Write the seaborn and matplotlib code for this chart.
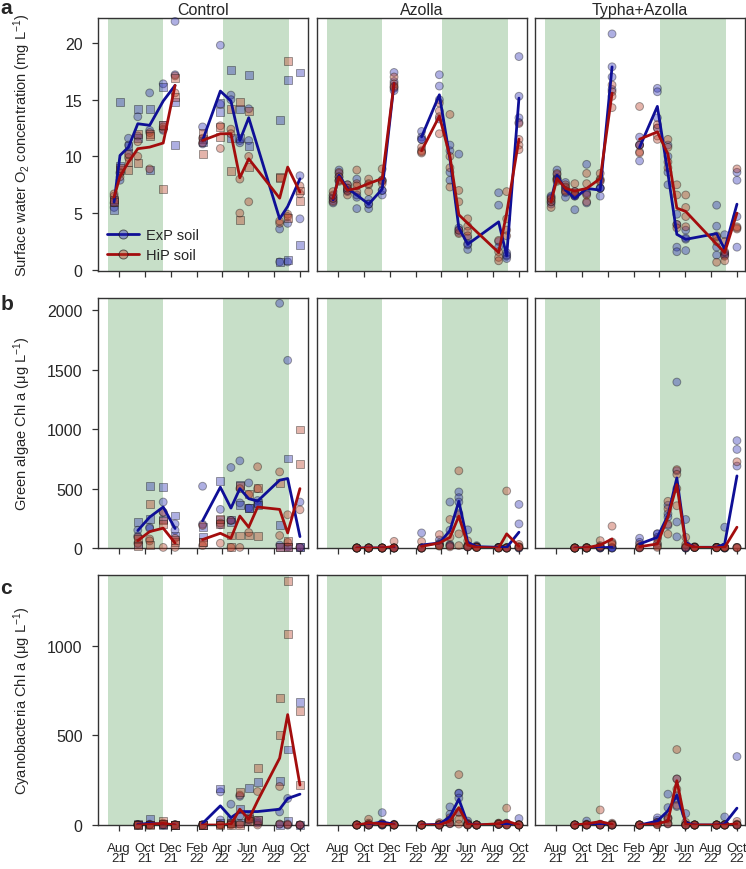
import numpy as np
import pandas as pd
import seaborn as sns
import matplotlib.pyplot as plt
import matplotlib.dates as mdates
from matplotlib.lines import Line2D

sns.set_style("ticks")
plt.rcParams["font.family"] = ["Liberation Sans", "DejaVu Sans"]
plt.rcParams["mathtext.fontset"] = "custom"
plt.rcParams["mathtext.rm"] = "Liberation Sans"
plt.rcParams["mathtext.it"] = "Liberation Sans:italic"

nan = np.nan

# sampling dates (first 7 = 2021 season, last 9 = 2022 season)
dates = ["2021-07-20", "2021-08-03", "2021-08-23", "2021-09-14", "2021-10-12",
         "2021-11-13", "2021-12-11", "2022-02-14", "2022-03-28", "2022-04-22",
         "2022-05-13", "2022-06-03", "2022-06-24", "2022-08-15", "2022-09-03",
         "2022-10-02"]
season = [0] * 7 + [1] * 9

tick_dates = ["2021-08-01", "2021-10-01", "2021-12-01", "2022-02-01",
              "2022-04-01", "2022-06-01", "2022-08-01", "2022-10-01"]
tick_labels = ["Aug\n21", "Oct\n21", "Dec\n21", "Feb\n22",
               "Apr\n22", "Jun\n22", "Aug\n22", "Oct\n22"]

# periods with plants (green shading)
green_periods = [("2021-07-05", "2021-11-12"), ("2022-04-04", "2022-09-05")]

panels = ["Control", "Azolla", "Typha+Azolla"]
ylabels = ["Surface water O$_2$ concentration (mg L$^{-1}$)",
           "Green algae Chl a (\u03bcg L$^{-1}$)",
           "Cyanobacteria Chl a (\u03bcg L$^{-1}$)"]

# ---- mean lines ----
a_ctrl_exp = [5.97, 10.09, 10.82, 12.88, 12.74, 14.88, 16.26, 11.41, 15.76, 14.88, 11.41, 13.41, nan, 4.5, 5.59, 8.03]
a_ctrl_hip = [6.41, 8.24, 9.5, 10.68, 10.82, 11.18, 16.26, 11.41, 12.0, 12.0, 8.12, 9.79, nan, 6.32, 9.06, 6.85]
a_azo_exp = [6.17, 8.34, 7.18, 6.6, 5.79, 7.12, 16.44, 11.72, 15.43, 9.8, 3.7, 2.26, nan, 4.23, 1.24, 15.14]
a_azo_hip = [6.3, 8.19, 7.03, 7.18, 7.61, 8.05, 16.44, 10.5, 13.55, 10.0, 4.86, 4.1, nan, 1.53, 5.0, 11.52]
a_typ_exp = [6.17, 8.34, 7.03, 6.3, 7.18, 7.03, 17.89, 10.8, 14.41, 8.5, 3.13, 2.69, nan, 3.2, 1.82, 5.79]
a_typ_hip = [6.0, 8.05, 7.18, 6.95, 7.18, 8.05, 15.57, 11.52, 12.16, 10.2, 5.44, 5.15, nan, 2.26, 1.53, 5.0]

b_ctrl_exp = [nan, nan, nan, 147, 260, 345, 164, 229, 512, 336, 500, 415, 395, 571, 585, 96]
b_ctrl_hip = [nan, nan, nan, 62, 138, 167, 42, 71, 124, 82, 269, 175, 345, 325, 127, 500]
b_azo_exp = [nan, nan, nan, 0, 0, 0, 2, 25, 42, 147, 393, 48, 11, 6, 5, 133]
b_azo_hip = [nan, nan, nan, 0, 0, 0, 14, 14, 42, 90, 268, 25, 6, 0, 119, 14]
b_typ_exp = [nan, nan, nan, 0, 0, 2, 6, 34, 90, 274, 590, 48, 6, 6, 34, 607]
b_typ_hip = [nan, nan, nan, 0, 2, 25, 76, 11, 34, 260, 534, 34, 6, 3, 6, 175]

c_ctrl_exp = [nan, nan, nan, 4, 9, 4, 0, 9, 107, 41, 75, 75, 75, 88, 148, 172]
c_ctrl_hip = [nan, nan, nan, 0, 4, 9, 0, 0, 0, 4, 88, 32, 135, 373, 616, 223]
c_azo_exp = [nan, nan, nan, 0, 4, 17, 4, 0, 4, 47, 144, 7, 0, 4, 7, 0]
c_azo_hip = [nan, nan, nan, 0, 11, 7, 2, 0, 0, 22, 97, 4, 0, 7, 22, 0]
c_typ_exp = [nan, nan, nan, 0, 2, 2, 0, 0, 22, 79, 167, 13, 0, 0, 7, 94]
c_typ_hip = [nan, nan, nan, 0, 7, 19, 4, 0, 7, 22, 247, 4, 0, 0, 0, 7]

# ---- replicate points ----
a_ctrl_exp_circ = [[5.5, 5.9], [7.9, 8.6], [11.6, 11.0], [13.5, 11.8], [15.6, 12.3], [16.4, 12.3], [21.9, 17.2], [12.6, 11.1], [19.8, 14.6], [15.4, 15.0], [11.4, 11.2], [14.2, 11.4], [], [3.6, 0.7], [4.1, 0.7], [8.3, 4.5]]
a_ctrl_exp_sq = [[5.3, 6.1], [14.8, 9.2], [10.3, 10.9], [14.2, 11.6], [14.2, 8.8], [16.1, 12.8], [14.8, 11.0], [11.5, 11.3], [14.7, 13.9], [17.6, 11.6], [14.2, 11.6], [17.2, 10.9], [], [13.2, 0.7], [16.7, 0.9], [17.4, 2.2]]
a_ctrl_hip_circ = [[6.5, 6.7], [8.2, 8.5], [9.9, 10.2], [11.3, 10.0], [12.1, 8.9], [12.4, 12.6], [17.1, 15.6], [11.6, 11.2], [12.7, 10.7], [12.4, 12.0], [8.0, 5.0], [10.0, 6.0], [], [4.1, 4.3], [4.9, 4.7], [7.4, 6.7]]
a_ctrl_hip_sq = [[6.2, 6.0], [8.8, 9.0], [9.5, 8.8], [12.0, 9.4], [12.0, 11.8], [12.8, 7.1], [16.9, 15.2], [12.1, 10.2], [12.6, 11.7], [14.2, 8.7], [14.8, 4.4], [9.1, 14.0], [], [8.2, 8.1], [18.4, 4.6], [6.1, 7.0]]

b_ctrl_exp_circ = [[], [], [], [150, 100], [175, 165], [387, 300], [203, 150], [520, 200], [325, 195], [678, 232], [734, 380], [548, 336], [400, 370], [2060, 25], [1580, 10], [387, 5]]
b_ctrl_exp_sq = [[], [], [], [217, 30], [520, 246], [514, 240], [274, 100], [96, 180], [562, 240], [240, 220], [534, 359], [340, 340], [380, 360], [195, 5], [754, 10], [10, 5]]
b_ctrl_hip_circ = [[], [], [], [90, 40], [76, 60], [302, 5], [82, 5], [190, 20], [210, 40], [232, 5], [500, 5], [450, 130], [684, 500], [641, 105], [280, 48], [322, 5]]
b_ctrl_hip_sq = [[], [], [], [76, 20], [373, 25], [232, 200], [48, 70], [48, 50], [246, 200], [105, 10], [520, 105], [458, 105], [506, 100], [548, 5], [60, 10], [998, 706]]

c_ctrl_exp_circ = [[], [], [], [3, 0], [5, 2], [3, 0], [2, 0], [2, 0], [185, 28], [116, 10], [50, 160], [30, 20], [20, 10], [73, 5], [148, 0], [0, 0]]
c_ctrl_exp_sq = [[], [], [], [5, 2], [32, 3], [5, 0], [0, 0], [0, 0], [204, 10], [30, 8], [88, 10], [206, 50], [238, 30], [247, 0], [421, 20], [687, 0]]
c_ctrl_hip_circ = [[], [], [], [2, 0], [2, 0], [10, 2], [2, 0], [0, 0], [2, 0], [5, 0], [167, 5], [40, 30], [187, 0], [215, 5], [0, 5], [0, 0]]
c_ctrl_hip_sq = [[], [], [], [3, 0], [3, 0], [22, 5], [0, 0], [0, 0], [3, 0], [10, 0], [182, 0], [36, 20], [318, 30], [711, 500], [1363, 1065], [637, 223]]

a_azo_exp_pts = [[5.9, 6.1, 6.3, 6.5], [8.8, 8.5, 8.2, 7.9], [7.5, 7.2, 6.9, 7.0], [8.0, 6.4, 5.4, 6.6], [6.2, 5.4, 5.8, 5.8], [7.9, 6.6, 7.0, 7.0], [17.4, 16.6, 16.0, 15.8], [12.2, 11.7, 11.5, 11.5], [17.2, 16.2, 15.0, 13.3], [10.5, 8.6, 7.9, 11.0], [10.2, 3.7, 3.3, 3.5], [2.8, 1.8, 2.2, 2.3], [], [6.8, 5.7, 2.5, 2.0], [1.2, 1.0, 1.5, 1.3], [18.8, 15.3, 13.4, 13.0]]
a_azo_hip_pts = [[6.0, 6.3, 6.6, 6.9], [8.6, 8.2, 7.9, 7.8], [7.5, 7.0, 6.6, 7.2], [8.8, 7.6, 6.9, 7.4], [8.0, 6.9, 7.5, 7.6], [8.9, 7.9, 7.8, 7.6], [17.0, 16.4, 16.2, 16.1], [10.5, 10.3, 10.8, 10.4], [14.7, 14.0, 13.5, 12.0], [13.7, 10.0, 9.0, 7.3], [7.0, 6.0, 3.2, 3.5], [3.85, 4.5, 3.4, 3.0], [], [2.6, 1.6, 1.1, 0.8], [6.9, 4.5, 3.5, 3.0], [11.5, 11.0, 10.6, 12.9]]
a_typ_exp_pts = [[5.8, 6.0, 6.4, 6.5], [8.8, 8.4, 8.0, 8.1], [7.7, 7.2, 6.8, 6.4], [6.5, 5.3, 6.9, 6.5], [9.3, 5.9, 6.8, 6.7], [6.5, 7.2, 7.2, 7.2], [20.8, 17.9, 17.0, 15.9], [11.7, 9.6, 11.0, 11.0], [16.0, 15.7, 12.5, 13.4], [8.6, 7.5, 10.0, 11.0], [4.9, 4.0, 2.0, 1.6], [2.7, 1.7, 3.5, 2.8], [], [5.7, 3.85, 2.0, 1.3], [3.1, 1.5, 1.4, 1.3], [8.6, 7.9, 2.0, 4.7]]
a_typ_hip_pts = [[5.5, 6.2, 6.0, 6.3], [8.5, 8.0, 7.8, 7.9], [7.5, 7.3, 7.0, 6.9], [7.6, 6.9, 6.7, 6.6], [8.5, 7.6, 6.6, 6.0], [8.5, 8.0, 7.9, 7.8], [16.3, 15.7, 15.3, 14.3], [14.4, 10.4, 11.0, 10.3], [12.5, 11.8, 11.5, 12.8], [11.5, 10.8, 9.5, 9.0], [7.5, 6.6, 4.0, 3.7], [6.6, 3.8, 5.5, 4.7], [], [0.67, 2.5, 3.0, 2.9], [1.2, 0.8, 2.5, 1.6], [8.9, 3.6, 3.8, 3.7]]

b_azo_exp_pts = [[], [], [], [0, 0, 0, 0], [0, 0, 0, 0], [0, 0, 0, 0], [2, 0, 0, 0], [127, 0, 0, 0], [68, 40, 30, 30], [387, 150, 30, 20], [472, 424, 387, 290], [153, 20, 10, 9], [20, 10, 10, 5], [5, 5, 5, 5], [5, 0, 0, 0], [367, 203, 0, 0]]
b_azo_hip_pts = [[], [], [], [0, 0, 0, 0], [0, 0, 0, 0], [0, 0, 0, 0], [56, 0, 0, 0], [54, 0, 0, 0], [113, 20, 20, 15], [240, 90, 20, 10], [650, 280, 119, 20], [60, 20, 10, 10], [10, 5, 5, 4], [0, 0, 0, 0], [480, 0, 0, 0], [30, 10, 10, 5]]
b_typ_exp_pts = [[], [], [], [0, 0, 0, 0], [0, 0, 0, 0], [5, 2, 0, 0], [6, 0, 0, 0], [82, 48, 5, 1], [119, 120, 90, 30], [288, 260, 189, 360], [1397, 650, 219, 94], [240, 0, 0, 0], [10, 5, 5, 5], [5, 5, 5, 5], [175, 0, 0, 0], [904, 830, 690, 5]]
b_typ_hip_pts = [[], [], [], [0, 0, 0, 0], [5, 2, 0, 0], [62, 20, 10, 8], [184, 50, 40, 30], [30, 10, 3, 1], [76, 40, 15, 5], [393, 330, 200, 117], [660, 620, 500, 356], [90, 30, 10, 5], [10, 5, 5, 4], [5, 2, 2, 2], [5, 5, 5, 5], [726, 5, 5, 0]]

c_azo_exp_pts = [[], [], [], [0, 0, 0, 0], [3, 0, 0, 0], [69, 0, 0, 0], [4, 0, 0, 0], [0, 0, 0, 0], [5, 2, 0, 0], [101, 60, 20, 7], [178, 176, 150, 72], [22, 5, 1, 0], [0, 0, 0, 0], [5, 5, 3, 3], [10, 10, 5, 3], [36, 0, 0, 0]]
c_azo_hip_pts = [[], [], [], [0, 0, 0, 0], [32, 10, 0, 0], [10, 5, 5, 5], [2, 0, 0, 0], [0, 0, 0, 0], [13, 0, 0, 0], [40, 30, 10, 8], [281, 70, 32, 5], [10, 5, 1, 0], [0, 0, 0, 0], [10, 10, 5, 3], [94, 0, 0, 0], [3, 0, 0, 0]]
c_typ_exp_pts = [[], [], [], [0, 0, 0, 0], [22, 0, 0, 0], [5, 2, 0, 0], [0, 0, 0, 0], [0, 0, 0, 0], [40, 26, 15, 7], [172, 97, 40, 7], [257, 144, 103, 164], [64, 0, 0, 0], [0, 0, 0, 0], [0, 0, 0, 0], [45, 0, 0, 0], [382, 0, 0, 0]]
c_typ_hip_pts = [[], [], [], [0, 0, 0, 0], [5, 2, 0, 0], [84, 0, 0, 0], [10, 5, 0, 0], [0, 0, 0, 0], [15, 10, 2, 1], [40, 32, 10, 6], [421, 257, 200, 110], [15, 0, 0, 0], [0, 0, 0, 0], [0, 0, 0, 0], [0, 0, 0, 0], [20, 5, 0, 0]]

ylims = [(-0.1, 22.2), (0, 2105), (0, 1395)]
yticks = [[0, 5, 10, 15, 20], [0, 500, 1000, 1500, 2000], [0, 500, 1000]]

mean_lines = [
    [(a_ctrl_exp, a_ctrl_hip), (a_azo_exp, a_azo_hip), (a_typ_exp, a_typ_hip)],
    [(b_ctrl_exp, b_ctrl_hip), (b_azo_exp, b_azo_hip), (b_typ_exp, b_typ_hip)],
    [(c_ctrl_exp, c_ctrl_hip), (c_azo_exp, c_azo_hip), (c_typ_exp, c_typ_hip)],
]
point_sets = [
    [[(a_ctrl_exp_circ, "ExP", "o"), (a_ctrl_exp_sq, "ExP", "s"), (a_ctrl_hip_circ, "HiP", "o"), (a_ctrl_hip_sq, "HiP", "s")],
     [(a_azo_exp_pts, "ExP", "o"), (a_azo_hip_pts, "HiP", "o")],
     [(a_typ_exp_pts, "ExP", "o"), (a_typ_hip_pts, "HiP", "o")]],
    [[(b_ctrl_exp_circ, "ExP", "o"), (b_ctrl_exp_sq, "ExP", "s"), (b_ctrl_hip_circ, "HiP", "o"), (b_ctrl_hip_sq, "HiP", "s")],
     [(b_azo_exp_pts, "ExP", "o"), (b_azo_hip_pts, "HiP", "o")],
     [(b_typ_exp_pts, "ExP", "o"), (b_typ_hip_pts, "HiP", "o")]],
    [[(c_ctrl_exp_circ, "ExP", "o"), (c_ctrl_exp_sq, "ExP", "s"), (c_ctrl_hip_circ, "HiP", "o"), (c_ctrl_hip_sq, "HiP", "s")],
     [(c_azo_exp_pts, "ExP", "o"), (c_azo_hip_pts, "HiP", "o")],
     [(c_typ_exp_pts, "ExP", "o"), (c_typ_hip_pts, "HiP", "o")]],
]

line_pal = {"ExP": "#0f0f96", "HiP": "#a30d0d"}
point_pal = {"ExP": "#2a2db5", "HiP": "#b83a22"}
green = "#c7dfc8"

xnum = mdates.date2num(pd.to_datetime(dates))
tick_num = mdates.date2num(pd.to_datetime(tick_dates))
xlim = mdates.date2num(pd.to_datetime(["2021-06-12", "2022-10-21"]))

W, H = 746, 870
col_left = [98, 317, 535]
col_w = 210
row_span = [(19, 272), (299, 549), (576, 826)]

fig = plt.figure(figsize=(W / 100, H / 100), dpi=100)

for r in range(3):
    for c in range(3):
        top, bot = row_span[r]
        ax = fig.add_axes([col_left[c] / W, 1 - bot / H, col_w / W, (bot - top) / H])

        for start, end in green_periods:
            s, e = mdates.date2num(pd.to_datetime([start, end]))
            ax.axvspan(s, e, color=green, lw=0, zorder=0)

        rows = []
        for vals, soil, shape in point_sets[r][c]:
            for x, reps in zip(xnum, vals):
                for v in reps:
                    rows.append((x, v, soil, shape))
        pts = pd.DataFrame(rows, columns=["date", "value", "soil", "shape"])
        sns.scatterplot(data=pts, x="date", y="value", hue="soil", style="shape",
                        markers={"o": "o", "s": "s"}, palette=point_pal,
                        hue_order=["ExP", "HiP"], alpha=0.38, s=32,
                        edgecolor="#101010", linewidth=0.7, legend=False,
                        ax=ax, zorder=3, clip_on=False)

        exp_m, hip_m = mean_lines[r][c]
        m = pd.DataFrame({
            "date": np.concatenate([xnum, xnum]),
            "value": exp_m + hip_m,
            "soil": ["ExP"] * len(xnum) + ["HiP"] * len(xnum),
            "season": season + season,
        }).dropna()
        sns.lineplot(data=m, x="date", y="value", hue="soil", units="season",
                     estimator=None, palette=line_pal, lw=2.0, legend=False,
                     ax=ax, zorder=4)

        ax.set_xlim(xlim)
        ax.set_ylim(ylims[r])
        ax.set_xticks(tick_num)
        ax.set_xlabel("")
        ax.set_ylabel("")
        for sp in ax.spines.values():
            sp.set_color("#333333")
            sp.set_linewidth(1.0)
        ax.tick_params(axis="x", direction="out", length=4, width=0.9,
                       color="#333333", pad=8)
        ax.tick_params(axis="y", direction="out", length=4, width=0.9,
                       color="#333333", pad=7, labelsize=11.5)

        if r == 2:
            ax.set_xticklabels(tick_labels, fontsize=9.5)
            for lbl in ax.get_xticklabels():
                lbl.set_linespacing(0.85)
        else:
            ax.tick_params(axis="x", labelbottom=False)

        if c == 0:
            ax.set_yticks(yticks[r])
            ax.set_ylabel(ylabels[r], fontsize=10.5)
            ax.yaxis.set_label_coords(-0.31, 0.5)
        else:
            ax.set_yticks([])

        if r == 0:
            ax.set_title(panels[c], fontsize=11.5, pad=3)

        if r == 0 and c == 0:
            handles = [
                Line2D([0], [0], color=line_pal[k], lw=2.0, marker="o",
                       markersize=6.5, markerfacecolor=point_pal[k] + "66",
                       markeredgecolor="#10101099", markeredgewidth=0.7)
                for k in ["ExP", "HiP"]
            ]
            ax.legend(handles, ["ExP soil", "HiP soil"], loc="lower left",
                      frameon=False, fontsize=10.5, handlelength=2.2,
                      handletextpad=0.5, borderaxespad=0.2, labelspacing=0.45)

for letter, ypix in zip(["a", "b", "c"], [8, 305, 588]):
    fig.text(0.5 / W, 1 - ypix / H, letter, fontsize=15, fontweight="bold",
             ha="left", va="center")

fig.savefig("out.png", dpi=100)
